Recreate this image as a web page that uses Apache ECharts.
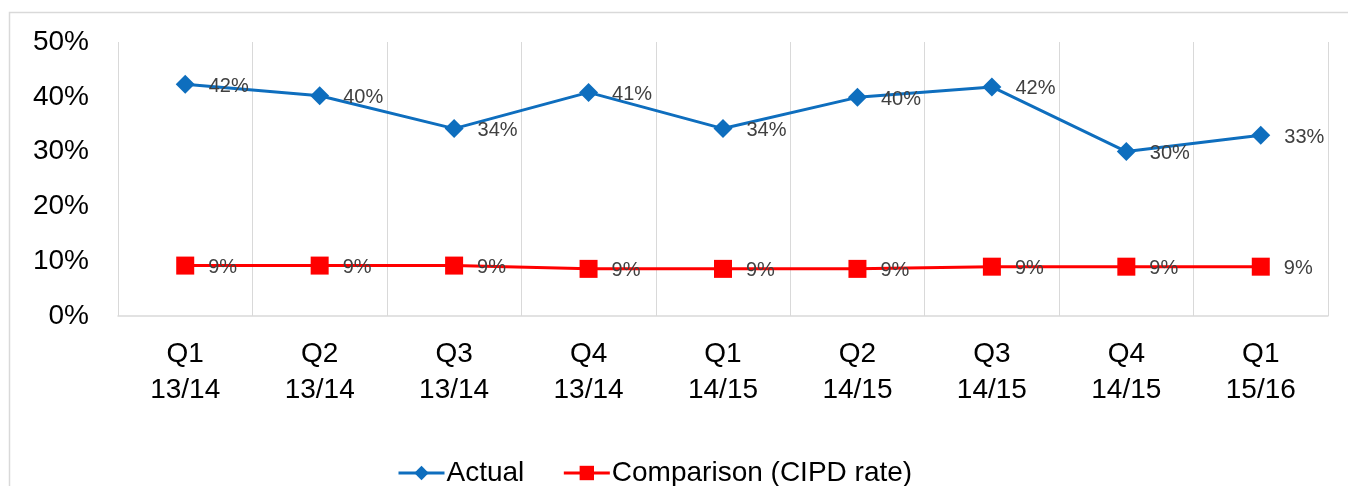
<!DOCTYPE html>
<html>
<head>
<meta charset="utf-8">
<script src="https://cdn.jsdelivr.net/npm/echarts@6/dist/echarts.min.js"></script>
<style>
html,body{margin:0;padding:0;background:#fff;}
#chart{width:1348px;height:486px;}
</style>
</head>
<body>
<div id="chart"></div>
<script>
var categories = ['Q1\n13/14','Q2\n13/14','Q3\n13/14','Q4\n13/14','Q1\n14/15','Q2\n14/15','Q3\n14/15','Q4\n14/15','Q1\n15/16'];
var actual = [42.3, 40.2, 34.2, 40.8, 34.2, 39.9, 41.8, 30.0, 33.0];
var comparison = [9.2, 9.2, 9.2, 8.6, 8.6, 8.6, 9.0, 9.0, 9.0];
var yTicks = [0, 10, 20, 30, 40, 50];

var chart = echarts.init(document.getElementById('chart'), null, {renderer: 'canvas'});
var fontFamily = '"Liberation Sans", Arial, sans-serif';
var labelCfg = {
  show: true,
  position: 'right',
  distance: 14,
  offset: [0, 2],
  fontFamily: fontFamily,
  fontSize: 20,
  color: '#404040',
  formatter: function (p) { return Math.round(p.value) + '%'; }
};
chart.setOption({
  animation: false,
  backgroundColor: '#fff',
  graphic: [{
    type: 'rect',
    shape: {x: 9.5, y: 12.5, width: 1400, height: 600},
    style: {fill: 'none', stroke: '#d9d9d9', lineWidth: 1.5},
    silent: true, z: -1
  }],
  grid: {left: 118, right: 20, top: 42, bottom: 170, containLabel: false},
  legend: {
    bottom: -6,
    left: 392,
    itemWidth: 46,
    itemHeight: 18,
    itemGap: 38,
    lineStyle: {width: 3},
    textStyle: {fontFamily: fontFamily, fontSize: 28, color: '#000', padding: [0, 0, 0, -3]},
    data: ['Actual', 'Comparison (CIPD rate)']
  },
  xAxis: {
    type: 'category',
    data: categories,
    boundaryGap: true,
    axisTick: {show: false},
    axisLine: {show: true, lineStyle: {color: '#d9d9d9', width: 1.5}},
    splitLine: {show: true, interval: 0, lineStyle: {color: '#d9d9d9', width: 1}},
    axisLabel: {
      interval: 0,
      margin: 20,
      fontFamily: fontFamily,
      fontSize: 28,
      lineHeight: 36,
      color: '#000'
    }
  },
  yAxis: {
    type: 'value',
    min: yTicks[0],
    max: yTicks[yTicks.length - 1],
    interval: 10,
    axisLine: {show: false},
    axisTick: {show: false},
    splitLine: {show: false},
    axisLabel: {
      margin: 29,
      fontFamily: fontFamily,
      fontSize: 28,
      color: '#000',
      padding: [5, 0, 0, 0],
      formatter: '{value}%'
    }
  },
  series: [{
    name: 'Actual',
    type: 'line',
    data: actual,
    symbol: 'diamond',
    symbolSize: 19,
    color: '#0E6EBE',
    lineStyle: {width: 3, color: '#0E6EBE'},
    itemStyle: {color: '#0E6EBE'},
    label: labelCfg
  }, {
    name: 'Comparison (CIPD rate)',
    type: 'line',
    data: comparison,
    symbol: 'rect',
    symbolSize: 18,
    color: '#FF0000',
    lineStyle: {width: 3, color: '#FF0000'},
    itemStyle: {color: '#FF0000'},
    label: labelCfg
  }]
});
</script>
</body>
</html>
